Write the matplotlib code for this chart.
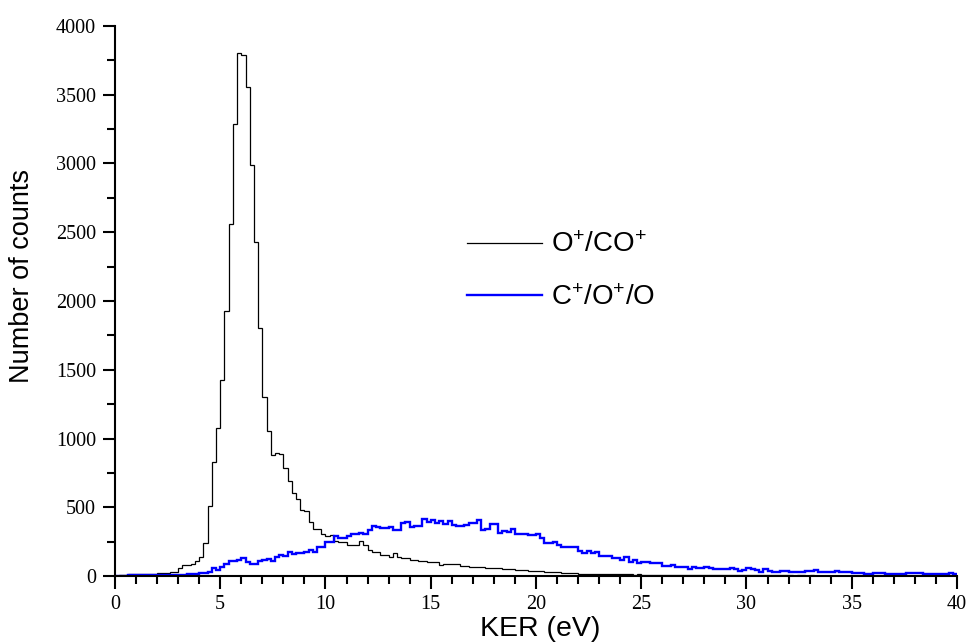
import numpy as np
import matplotlib
matplotlib.use("Agg")
import matplotlib.pyplot as plt
from matplotlib.ticker import MultipleLocator

# ---- data (counts per 0.2 eV bin, 0-40 eV) ----
bin_width = 0.2
ker_min, ker_max = 0.0, 40.0

counts_o_co = [
    3, 7, 10, 12, 12, 14, 15, 15, 17, 17,
    19, 22, 22, 27, 32, 56, 80, 82, 85, 106,
    138, 238, 511, 827, 1076, 1425, 1930, 2560, 3287, 3806,
    3787, 3559, 2989, 2432, 1806, 1304, 1055, 880, 892, 885,
    783, 691, 606, 558, 478, 470, 395, 342, 340, 308,
    293, 298, 258, 246, 246, 227, 227, 225, 255, 225,
    189, 177, 177, 153, 153, 141, 170, 141, 128, 128,
    116, 116, 109, 109, 99, 99, 99, 80, 87, 87,
    87, 87, 75, 75, 63, 63, 63, 63, 58, 56,
    60, 56, 50, 48, 48, 46, 44, 42, 39, 39,
    39, 37, 30, 29, 27, 26, 24, 22, 20, 19,
    17, 16, 15, 15, 14, 14, 13, 13, 12, 12,
    12, 11, 12, 10, 11, 10, 9, 10, 9, 10,
    9, 8, 9, 8, 8, 7, 8, 7, 7, 6,
    7, 6, 7, 6, 6, 5, 6, 6, 5, 5,
    5, 5, 4, 5, 5, 4, 5, 4, 4, 4,
    4, 3, 4, 4, 3, 4, 3, 3, 3, 3,
    3, 3, 2, 3, 3, 2, 3, 2, 2, 2,
    2, 2, 2, 2, 2, 1, 2, 2, 1, 2,
    2, 1, 1, 2, 1, 1, 1, 1, 1, 1,
]

counts_c_o_o = [
    2, 3, 3, 4, 4, 4, 5, 5, 5, 5,
    6, 6, 6, 7, 7, 8, 10, 12, 12, 12,
    19, 20, 32, 58, 46, 62, 90, 106, 108, 120,
    133, 104, 87, 88, 109, 118, 121, 109, 136, 153,
    144, 172, 160, 165, 167, 172, 192, 177, 213, 213,
    244, 248, 291, 280, 280, 291, 303, 303, 315, 303,
    335, 365, 355, 346, 346, 359, 336, 336, 383, 390,
    353, 365, 365, 412, 390, 405, 383, 400, 380, 400,
    372, 364, 364, 372, 383, 383, 405, 335, 342, 376,
    378, 315, 330, 322, 339, 305, 303, 303, 298, 298,
    308, 280, 242, 238, 250, 225, 213, 208, 208, 208,
    182, 170, 182, 165, 177, 146, 146, 146, 134, 134,
    116, 136, 104, 118, 97, 102, 102, 95, 95, 95,
    73, 73, 82, 68, 68, 63, 51, 66, 56, 61,
    68, 61, 49, 49, 54, 49, 61, 49, 39, 46,
    56, 49, 44, 32, 51, 37, 32, 32, 39, 34,
    28, 26, 30, 32, 39, 39, 44, 32, 27, 27,
    27, 36, 32, 32, 27, 24, 24, 19, 17, 17,
    19, 19, 24, 17, 17, 17, 17, 17, 19, 24,
    19, 19, 15, 15, 15, 15, 15, 15, 19, 17,
]

series_labels = [r"O$^{\mathregular{+}}$/CO$^{\mathregular{+}}$",
                 r"C$^{\mathregular{+}}$/O$^{\mathregular{+}}$/O"]
x_label = "KER (eV)"
y_label = "Number of counts"

# ---- style ----
plt.rcParams["mathtext.fontset"] = "custom"
plt.rcParams["mathtext.rm"] = "Liberation Sans"
plt.rcParams["mathtext.it"] = "Liberation Sans:italic"
plt.rcParams["mathtext.bf"] = "Liberation Sans:bold"

fig = plt.figure(figsize=(9.70, 6.43), dpi=100)
ax = fig.add_axes([115 / 970, 67 / 643, 842 / 970, 550 / 643])

n_bins = len(counts_o_co)
edges = ker_min + bin_width * np.arange(n_bins + 1)

ax.stairs(counts_o_co, edges, baseline=None, color="black", linewidth=0.9,
          label=series_labels[0])
ax.stairs(counts_c_o_o, edges, baseline=None, color="#0000ff", linewidth=1.7,
          label=series_labels[1])

ax.set_xlim(ker_min, ker_max)
ax.set_ylim(0, 4000)

ax.xaxis.set_major_locator(MultipleLocator(5))
ax.xaxis.set_minor_locator(MultipleLocator(1))
ax.yaxis.set_major_locator(MultipleLocator(500))
ax.yaxis.set_minor_locator(MultipleLocator(250))

for s in ["top", "right"]:
    ax.spines[s].set_visible(False)
for s in ["left", "bottom"]:
    ax.spines[s].set_linewidth(1.5)

ax.tick_params(which="major", direction="out", length=9, width=1.5,
               labelsize=14.5, pad=4.5)
ax.tick_params(which="minor", direction="out", length=5.5, width=1.5)
for lbl in ax.get_xticklabels() + ax.get_yticklabels():
    lbl.set_fontfamily("Liberation Serif")

ax.set_xlabel(x_label, fontsize=20.5, fontfamily="Liberation Sans")
ax.set_ylabel(y_label, fontsize=19.5, fontfamily="Liberation Sans")
ax.xaxis.set_label_coords(0.505, -0.073)
ax.yaxis.set_label_coords(-0.095, 0.545)

leg = ax.legend(loc="upper left", bbox_to_anchor=(0.388, 0.67), frameon=False,
                handlelength=2.7, handletextpad=0.35,
                labelspacing=0.95, prop={"family": "Liberation Sans", "size": 20})

fig.savefig("out.png", dpi=100)
